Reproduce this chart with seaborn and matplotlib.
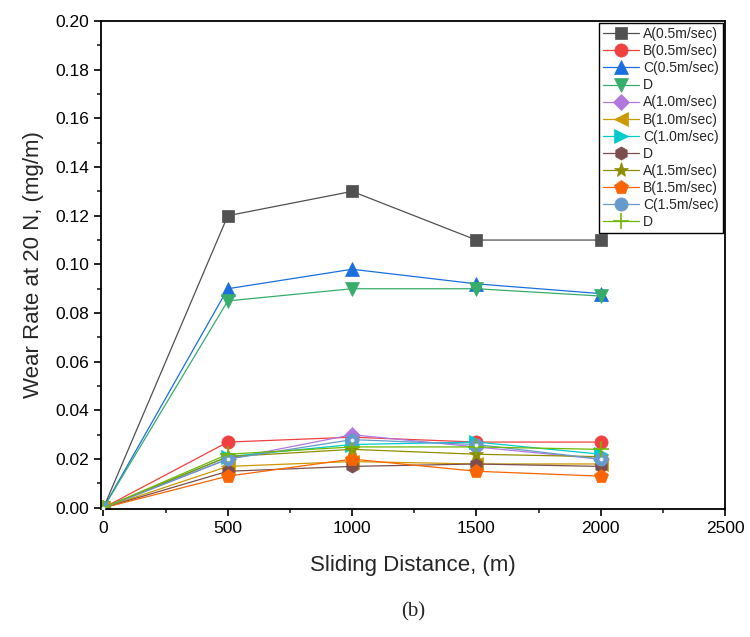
import matplotlib
matplotlib.use("Agg")
import matplotlib.pyplot as plt
from matplotlib.ticker import MultipleLocator, FormatStrFormatter
import seaborn as sns
import pandas as pd

sns.set_theme(style="white")
plt.rcParams['font.family'] = ['Liberation Sans', 'DejaVu Sans']

distance = [0, 500, 1000, 1500, 2000]
labels = ["A(0.5m/sec)", "B(0.5m/sec)", "C(0.5m/sec)", "D",
          "A(1.0m/sec)", "B(1.0m/sec)", "C(1.0m/sec)", "D",
          "A(1.5m/sec)", "B(1.5m/sec)", "C(1.5m/sec)", "D"]
a05 = [0, 0.120, 0.130, 0.110, 0.110]
b05 = [0, 0.027, 0.029, 0.027, 0.027]
c05 = [0, 0.090, 0.098, 0.092, 0.088]
d05 = [0, 0.085, 0.090, 0.090, 0.087]
a10 = [0, 0.020, 0.030, 0.025, 0.020]
b10 = [0, 0.017, 0.019, 0.018, 0.018]
c10 = [0, 0.021, 0.026, 0.027, 0.022]
d10 = [0, 0.015, 0.017, 0.018, 0.017]
a15 = [0, 0.021, 0.024, 0.022, 0.021]
b15 = [0, 0.013, 0.020, 0.015, 0.013]
c15 = [0, 0.020, 0.028, 0.026, 0.020]
d15 = [0, 0.022, 0.025, 0.025, 0.024]
series = [a05, b05, c05, d05, a10, b10, c10, d10, a15, b15, c15, d15]

colors = ["#515151", "#F14040", "#1A6FDF", "#37AD6B", "#B177DE", "#CC9900",
          "#00CBCC", "#7D4E4E", "#8E8E00", "#FB6501", "#6699CC", "#6FB802"]
markers = ["s", "o", "^", "v", "D", "<", ">", "h", "*", "p", "o", "+"]
msizes = [8.5, 9.5, 9.5, 9.5, 8.5, 9.5, 9.5, 9.5, 11, 10, 9.5, 12]

rows = []
for i, (lab, vals) in enumerate(zip(labels, series)):
    for x, y in zip(distance, vals):
        rows.append({"sid": i, "label": lab, "distance": x, "wear": y})
df = pd.DataFrame(rows)

fig = plt.figure(figsize=(7.5, 6.37), dpi=100)
ax = fig.add_axes([101/750, 1-509/637, (725-101)/750, (509-21)/637])

for i in range(len(labels)):
    sub = df[df["sid"] == i]
    sns.lineplot(data=sub, x="distance", y="wear", ax=ax, color=colors[i],
                 marker=markers[i], markersize=msizes[i], linewidth=0.9,
                 markeredgecolor=colors[i], markeredgewidth=1.2 if markers[i] == "+" else 0.5,
                 label=labels[i], estimator=None, errorbar=None, sort=False)
    if i == 10:
        # glossy highlight of the sphere marker
        sns.scatterplot(data=sub, x="distance", y="wear", ax=ax, color="#e8f0fa",
                        s=8, linewidth=0, legend=False, zorder=5)

ax.set_xlim(-10, 2500)
ax.set_ylim(-0.0005, 0.20)
ax.xaxis.set_major_locator(MultipleLocator(500))
ax.xaxis.set_minor_locator(MultipleLocator(250))
ax.yaxis.set_major_locator(MultipleLocator(0.02))
ax.yaxis.set_minor_locator(MultipleLocator(0.01))
ax.yaxis.set_major_formatter(FormatStrFormatter('%.2f'))
ax.tick_params(which='major', direction='out', length=5, width=1.2, labelsize=12.5,
               left=True, bottom=True, top=False, right=False, colors='black')
ax.tick_params(which='minor', direction='out', length=3, width=1.2,
               left=True, bottom=True, top=False, right=False)
for s in ax.spines.values():
    s.set_color('black')
    s.set_linewidth(1.3)

ax.set_xlabel("Sliding Distance, (m)", fontsize=16, labelpad=14)
ax.set_ylabel("Wear Rate at 20 N, (mg/m)", fontsize=16, labelpad=8)

leg = ax.legend(loc='upper right', fontsize=10, frameon=True, fancybox=False,
                edgecolor='black', borderaxespad=0.15, handlelength=2.6,
                labelspacing=0.22, borderpad=0.3, handletextpad=0.3, framealpha=1)
leg.get_frame().set_linewidth(1.0)

fig.text(413/750, 1-612/637, "(b)", ha='center', va='center', fontsize=15,
         family=['Liberation Serif', 'DejaVu Serif'])

fig.savefig("out.png", dpi=100)
